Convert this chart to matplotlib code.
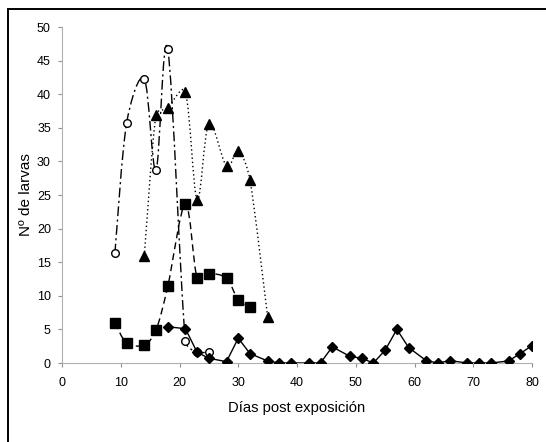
import numpy as np
import matplotlib
matplotlib.use("Agg")
import matplotlib.pyplot as plt
from matplotlib.path import Path
from matplotlib.patches import PathPatch, Rectangle

plt.rcParams['font.family'] = ['Liberation Sans', 'DejaVu Sans']

# datos
x_circ = [9, 11, 14, 16, 18, 21, 23, 25]
y_circ = [16.3, 35.7, 42.3, 28.7, 46.7, 3.3, 1.6, 1.7]

x_tri = [14, 16, 18, 21, 23, 25, 28, 30, 32, 35]
y_tri = [15.9, 36.9, 38.0, 40.3, 24.3, 35.6, 29.3, 31.6, 27.2, 6.9]

x_sq = [9, 11, 14, 16, 18, 21, 23, 25, 28, 30, 32]
y_sq = [6.0, 3.0, 2.7, 4.9, 11.4, 23.7, 12.6, 13.3, 12.6, 9.4, 8.4]

x_dia = [18, 21, 23, 25, 28, 30, 32, 35, 37, 39, 42, 44, 46, 49, 51, 53, 55,
         57, 59, 62, 64, 66, 69, 71, 73, 76, 78, 80]
y_dia = [5.4, 5.1, 1.6, 0.7, 0.2, 3.7, 1.4, 0.3, 0, 0, 0, 0, 2.4, 1.0, 0.7, 0,
         1.9, 5.0, 2.3, 0.35, 0, 0.35, 0, 0, 0, 0.3, 1.4, 2.6]


def smooth_path(ax, xs, ys, cap=0.45):
    # curva suavizada tipo Excel (Catmull-Rom en pixeles, con tope)
    p = ax.transData.transform(np.column_stack([xs, ys]))
    n = len(p)
    verts = [p[0]]
    codes = [Path.MOVETO]
    tang = [(p[min(i + 1, n - 1)] - p[max(i - 1, 0)]) / 6.0 for i in range(n)]
    for i in range(n - 1):
        seg = np.hypot(*(p[i + 1] - p[i]))
        t1, t2 = tang[i], tang[i + 1]
        l1, l2 = np.hypot(*t1), np.hypot(*t2)
        if l1 > cap * seg:
            t1 = t1 * cap * seg / l1
        if l2 > cap * seg:
            t2 = t2 * cap * seg / l2
        verts += [p[i] + t1, p[i + 1] - t2, p[i + 1]]
        codes += [Path.CURVE4] * 3
    verts = ax.transData.inverted().transform(np.array(verts))
    return Path(verts, codes)


fig = plt.figure(figsize=(5.46, 4.42), dpi=100)
ax = fig.add_axes([62/546, 1-363/442, 470/546, 336/442])
ax.set_xlim(0, 80)
ax.set_ylim(0, 50)

styles = [
    (x_circ, y_circ, (0, (7, 2.5, 1.5, 2.5)), 'o', 'white', 5.5),
    (x_tri, y_tri, (0, (1, 2)), '^', 'black', 6.5),
    (x_sq, y_sq, (0, (5, 3)), 's', 'black', 6.5),
]
for xs, ys, ls, mk, fc, ms in styles:
    patch = PathPatch(smooth_path(ax, xs, ys), facecolor='none', edgecolor='black',
                      lw=1.0, linestyle=ls, zorder=2)
    ax.add_patch(patch)
    ax.plot(xs, ys, linestyle='none', marker=mk, markerfacecolor=fc,
            markeredgecolor='black', markersize=ms, markeredgewidth=1.0, zorder=3)

ax.plot(x_dia, y_dia, color='black', lw=1.0, marker='D', markersize=4.8, zorder=3)

ax.set_xticks(range(0, 81, 10))
ax.set_yticks(range(0, 51, 5))
for s in ['top', 'right']:
    ax.spines[s].set_visible(False)
for s in ['left', 'bottom']:
    ax.spines[s].set_color('#b0b0b0')
    ax.spines[s].set_linewidth(0.8)
ax.tick_params(colors='#909090', labelcolor='black', length=3, width=0.8,
               labelsize=9, pad=5)
ax.tick_params(axis='x', pad=7)
ax.set_xlabel('Días post exposición', fontsize=10.7, labelpad=9)
ax.set_ylabel('Nº de larvas', fontsize=11, labelpad=3)

# marco exterior
fig.patches.append(Rectangle((8/546, -0.1), 1.1, 1.1 - 9/442, transform=fig.transFigure,
                             facecolor='none', edgecolor='black', lw=1.4))

fig.savefig('out.png', dpi=100)
